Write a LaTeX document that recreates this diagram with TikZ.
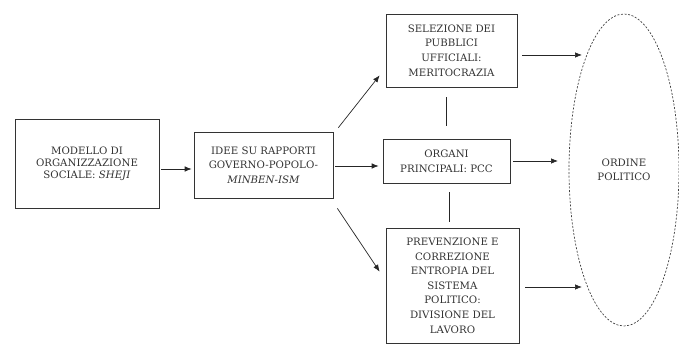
\documentclass[tikz,border=0pt]{standalone}
\usepackage{fontspec}
\setmainfont{DejaVu Serif}
\usetikzlibrary{shapes.geometric,arrows.meta}
\begin{document}
\begin{tikzpicture}[x=1pt,y=-1pt,
  box/.style={draw=black!80,line width=0.7pt,align=center,inner sep=2pt,
    font=\fontsize{10.2}{14.6}\selectfont,text=black!80},
  arr/.style={line width=0.7pt,draw=black!85,-{Latex[length=7pt,width=5.5pt]}},
  ln/.style={line width=0.7pt,draw=black!85}]
\useasboundingbox (0,0) rectangle (679,344);
\node[box,minimum width=144pt,minimum height=89pt,font=\fontsize{10.2}{11.8}\selectfont] (b1) at (87,163.5)
  {MODELLO DI\\ORGANIZZAZIONE\\SOCIALE: \textit{SHEJI}};
\node[box,minimum width=139pt,minimum height=66pt] (b2) at (263.5,165)
  {IDEE SU RAPPORTI\\GOVERNO-POPOLO-\\\textit{MINBEN-ISM}};
\node[box,minimum width=131pt,minimum height=73pt] (b3) at (451.5,50.5)
  {SELEZIONE DEI\\PUBBLICI\\UFFICIALI:\\MERITOCRAZIA};
\node[box,minimum width=127pt,minimum height=44pt] (b4) at (446.5,161)
  {ORGANI\\PRINCIPALI: PCC};
\node[box,minimum width=133pt,minimum height=115pt] (b5) at (452.5,285.5)
  {PREVENZIONE E\\CORREZIONE\\ENTROPIA DEL\\SISTEMA\\POLITICO:\\DIVISIONE DEL\\LAVORO};
\node[ellipse,draw=black!75,dashed,dash pattern=on 2pt off 1.6pt,line width=0.7pt,
  minimum width=110pt,minimum height=312pt,inner sep=0pt,align=center,
  font=\fontsize{10.2}{14}\selectfont,text=black!80] (ell) at (624,170) {ORDINE\\POLITICO};
\coordinate (e1) at (582,55);
\coordinate (e2) at (558,161);
\coordinate (e3) at (582,287);
\draw[arr] ([xshift=2pt,yshift=-5.5pt]b1.east) -- ([xshift=-2pt,yshift=-4pt]b2.west);
\draw[arr] ([xshift=5pt,yshift=4pt]b2.north east) -- ([xshift=-6pt,yshift=12pt]b3.south west);
\draw[arr] ([xshift=2pt,yshift=-1pt]b2.east) -- ([xshift=-4pt,yshift=-5pt]b4.west);
\draw[arr] ([xshift=4pt,yshift=-10pt]b2.south east) -- ([xshift=-6pt,yshift=-44pt]b5.north west);
\draw[arr] ([xshift=5pt,yshift=-4.5pt]b3.east) -- (e1);
\draw[arr] ([xshift=3pt]b4.east) -- (e2);
\draw[arr] ([xshift=6pt,yshift=-1.5pt]b5.east) -- (e3);
\draw[ln] ([xshift=-5.5pt,yshift=-10pt]b3.south) -- ([xshift=-0.5pt,yshift=13pt]b4.north);
\draw[ln] ([xshift=2.5pt,yshift=-9pt]b4.south) -- ([xshift=-3.5pt,yshift=6pt]b5.north);
\end{tikzpicture}
\end{document}
